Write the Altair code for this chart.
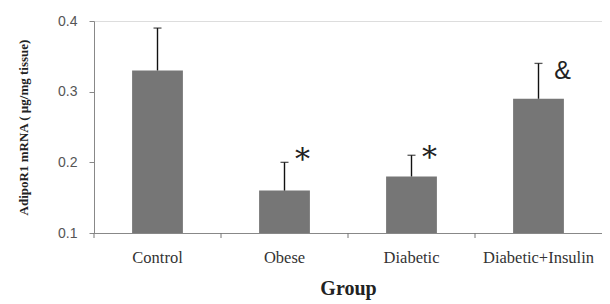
import altair as alt
import pandas as pd

groups = ["Control", "Obese", "Diabetic", "Diabetic+Insulin"]
means = [0.33, 0.16, 0.18, 0.29]
errs_top = [0.39, 0.20, 0.21, 0.34]
marks_txt = ["", "*", "*", "&"]
marks_y = [0.33, 0.213, 0.2167, 0.329]

df = pd.DataFrame({"group": groups, "mean": means, "top": errs_top,
                   "mark": marks_txt, "my": marks_y})

PI = 0.6
xscale = alt.Scale(paddingInner=PI, paddingOuter=PI / 2)
W, H = 508, 212
STEP = W / len(groups)

xenc = alt.X("group:N", sort=groups, title="Group", scale=xscale,
             axis=alt.Axis(labelAngle=0, labelFont="Liberation Serif", labelFontSize=16.5,
                           labelColor="#333333", labelPadding=16,
                           titleFont="Liberation Serif", titleFontSize=20, titleFontWeight="bold",
                           titleColor="#222222", titlePadding=13,
                           ticks=False, domainColor="#888888"))
yscale = alt.Scale(domain=[0.1, 0.4], zero=False, nice=False)

bars = alt.Chart(df).mark_bar(color="#767676").encode(
    x=xenc,
    y=alt.Y("mean:Q", scale=yscale, title="AdipoR1 mRNA ( µg/mg tissue)",
            axis=alt.Axis(values=[0.1, 0.2, 0.3, 0.4], format=".1f", grid=False,
                          labelFont="Liberation Sans", labelFontSize=14, labelColor="#555555",
                          labelPadding=12, tickSize=5, tickColor="#888888", domainColor="#888888",
                          titleFont="Liberation Serif", titleFontSize=13, titleFontWeight="bold",
                          titleColor="#222222", titlePadding=27)),
    y2=alt.datum(0.1),
)

# category boundary ticks below the x axis
xticks = alt.Chart(df).mark_rule(color="#777777", strokeWidth=1, xOffset=-STEP * PI / 2).encode(
    x=alt.X("group:N", sort=groups, scale=xscale, bandPosition=0),
    y=alt.value(H),
    y2=alt.value(H + 5),
)

err = alt.Chart(df).mark_rule(color="#111111", strokeWidth=1.4).encode(
    x=alt.X("group:N", sort=groups),
    y=alt.Y("mean:Q", scale=yscale),
    y2="top:Q",
)
cap = alt.Chart(df).mark_tick(color="#111111", thickness=1.3, size=8, orient="horizontal").encode(
    x=alt.X("group:N", sort=groups),
    y=alt.Y("top:Q", scale=yscale),
)

stars = alt.Chart(df[df["mark"] == "*"]).mark_text(
    font="DejaVu Serif", fontSize=30, dx=18, dy=7, color="#222222").encode(
    x=alt.X("group:N", sort=groups),
    y=alt.Y("my:Q", scale=yscale),
    text="mark:N",
)
amp = alt.Chart(df[df["mark"] == "&"]).mark_text(
    font="Liberation Sans", fontSize=25, dx=24, dy=0, baseline="middle", color="#222222").encode(
    x=alt.X("group:N", sort=groups),
    y=alt.Y("my:Q", scale=yscale),
    text="mark:N",
)

chart = alt.layer(bars, xticks, err, cap, stars, amp).properties(
    width=W, height=H,
    autosize=alt.AutoSizeParams(type="none"),
    padding={"left": 86, "top": 13, "right": 0, "bottom": 70},
).configure_view(stroke=None).configure(background="white")

chart.save("out.html", embed_options={"renderer": "svg", "actions": False})
